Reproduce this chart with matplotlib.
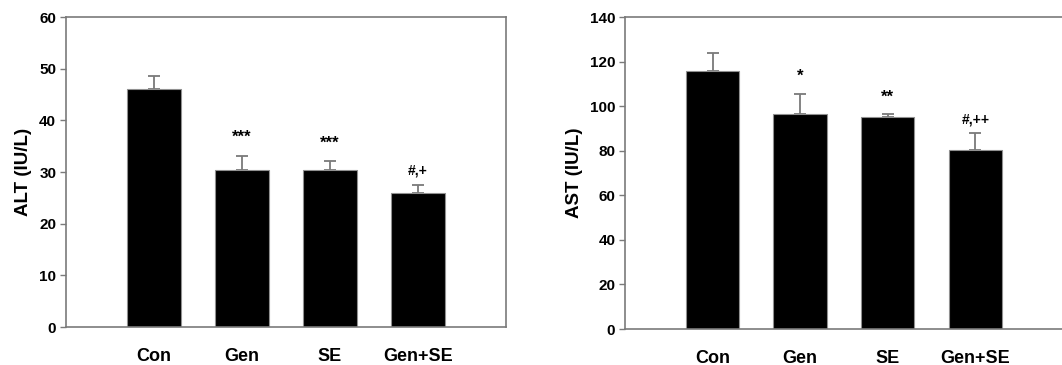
import matplotlib
matplotlib.use("Agg")
import matplotlib.pyplot as plt

plt.rcParams["font.family"] = ["Liberation Sans", "DejaVu Sans"]
plt.rcParams["font.weight"] = "bold"

groups = ["Con", "Gen", "SE", "Gen+SE"]

alt_mean = [46.0, 30.4, 30.3, 25.9]
alt_err = [2.5, 2.7, 1.9, 1.5]
alt_marks = ["", "***", "***", "#,+"]
alt_mark_y = [None, 36.8, 35.5, 30.3]

ast_mean = [115.6, 96.3, 95.1, 80.2]
ast_err = [8.4, 9.1, 1.5, 7.8]
ast_marks = ["", "*", "**", "#,++"]
ast_mark_y = [None, 113.5, 104.2, 93.8]

edge = "#7a7a7a"


def draw_panel(ax, means, errs, marks, mark_y, ylim, yticks, ylabel):
    x = range(len(groups))
    ax.bar(x, means, width=0.61, color="black", edgecolor="#909090",
           linewidth=0.8, zorder=2)
    ax.errorbar(x, means, yerr=[[0] * len(errs), errs], fmt="none",
                ecolor=edge, elinewidth=1.3, capsize=4.5, capthick=1.3,
                zorder=1)
    for xi, m, my in zip(x, marks, mark_y):
        if m:
            size = 12 if m.startswith("*") else 10
            ax.text(xi, my, m, ha="center", va="center", fontsize=size,
                    fontweight="bold")
    ax.set_xlim(-1, 4)
    ax.set_ylim(*ylim)
    ax.set_yticks(yticks)
    ax.set_xticks(list(x))
    ax.set_xticklabels(groups, fontsize=13, fontweight="bold")
    ax.tick_params(axis="x", length=0, pad=15)
    ax.tick_params(axis="y", length=4, width=1, color=edge, labelsize=11,
                   pad=3)
    for lbl in ax.get_yticklabels():
        lbl.set_fontweight("bold")
    ax.set_ylabel(ylabel, fontsize=13.5, fontweight="bold", labelpad=5)
    for sp in ax.spines.values():
        sp.set_color(edge)
        sp.set_linewidth(1.2)


fig = plt.figure(figsize=(10.62, 3.65), dpi=100)
ax1 = fig.add_axes([0.0621, 0.1041, 0.4143, 0.8493])
ax2 = fig.add_axes([0.5885, 0.0986, 0.4124, 0.8548])

draw_panel(ax1, alt_mean, alt_err, alt_marks, alt_mark_y, (0, 60),
           range(0, 61, 10), "ALT (IU/L)")
draw_panel(ax2, ast_mean, ast_err, ast_marks, ast_mark_y, (0, 140),
           range(0, 141, 20), "AST (IU/L)")

fig.savefig("out.png", dpi=100)
